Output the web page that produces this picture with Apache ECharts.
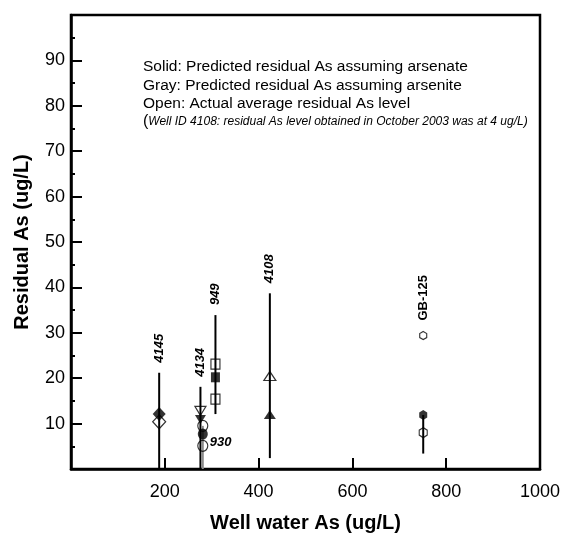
<!DOCTYPE html>
<html><head><meta charset="utf-8">
<script src="https://cdn.jsdelivr.net/npm/echarts@6/dist/echarts.min.js"></script>
<style>html,body{margin:0;padding:0;background:#fff}#c{width:563px;height:535px}</style>
</head><body><div id="c"></div>
<script>
// ---- data ----
const wells     = ['4145', '4134', '930', '949', '4108', 'GB-125'];
const wellAs    = [188, 276, 281, 308, 424, 751];
const rangeLow  = [0, 0, 0, 12.1, 2.4, 3.4];
const rangeHigh = [21.2, 18.1, 9.5, 33.9, 38.7, 11.9];
const solidAs   = [12.1, 10.9, 7.7, 20.2, 12.0, 11.9];
const openAs    = [10.4, 12.8, 5.1, 23.1, 20.5, 8.0];
const openAs2   = [null, null, 9.5, 15.4, null, 29.4];
const xTicks    = [0, 200, 400, 600, 800, 1000];
const yTicks    = [0, 10, 20, 30, 40, 50, 60, 70, 80, 90, 100];
const noteLines = ['Solid: Predicted residual As assuming arsenate',
                   'Gray: Predicted residual As assuming arsenite',
                   'Open: Actual average residual As level'];
const noteSmall = 'Well ID 4108: residual As level obtained in October 2003 was at 4 ug/L)';

// ---- style ----
const FONT = '"Liberation Sans", Arial, sans-serif';
const hexPath = 'path://M0,-10 L8.66,-5 L8.66,5 L0,10 L-8.66,5 L-8.66,-5 Z';
const symbols = ['diamond', 'triangle', 'circle', 'rect', 'triangle', hexPath];
const rotates = [0, 180, 0, 0, 0, 0];
const sizes   = [[13, 14], [11, 9], [10, 11], [9, 10], [12, 9], [8, 10]];
const sizes2  = [null, null, [10, 11], [9, 10], null, [7, 8]];

const chart = echarts.init(document.getElementById('c'), null, {renderer: 'canvas'});

function pts(vals, sz) {
  const out = [];
  vals.forEach((v, i) => {
    if (v == null) return;
    out.push({value: [wellAs[i], v], symbol: symbols[i], symbolRotate: rotates[i], symbolSize: sz[i]});
  });
  return out;
}

const option = {
  animation: false,
  backgroundColor: '#fff',
  grid: {left: 71, right: 23, top: 15, bottom: 66, containLabel: false, outerBoundsMode: 'none',
    show: true, borderColor: '#000', borderWidth: 2.5, backgroundColor: 'transparent'},
  xAxis: {
    type: 'value', min: xTicks[0], max: xTicks[xTicks.length - 1], interval: 200,
    name: 'Well water As (ug/L)', nameLocation: 'middle', nameGap: 44,
    nameTextStyle: {fontFamily: FONT, fontWeight: 'bold', fontSize: 20, color: '#000'},
    axisLine: {show: true, lineStyle: {color: '#000', width: 2.5}},
    axisTick: {show: true, inside: true, length: 11, lineStyle: {color: '#000', width: 2}},
    axisLabel: {fontFamily: FONT, fontSize: 18, color: '#000', margin: 14,
      formatter: v => (v === 0 ? '' : String(v))},
    splitLine: {show: false}
  },
  yAxis: {
    type: 'value', min: yTicks[0], max: yTicks[yTicks.length - 1], interval: 10,
    name: 'Residual As (ug/L)', nameLocation: 'middle', nameGap: 39,
    nameTextStyle: {fontFamily: FONT, fontWeight: 'bold', fontSize: 20, color: '#000'},
    axisLine: {show: true, lineStyle: {color: '#000', width: 2.5}},
    axisTick: {show: true, inside: true, length: 11, lineStyle: {color: '#000', width: 2}},
    minorTick: {show: true, splitNumber: 2, length: 4, lineStyle: {color: '#000', width: 2}},
    axisLabel: {fontFamily: FONT, fontSize: 18, color: '#000', margin: 6,
      formatter: v => (v === 0 || v === 100 ? '' : String(v))},
    splitLine: {show: false}
  },
  graphic: [
    ...noteLines.map((t, k) => ({type: 'text', left: 143, top: 59 + k * 18.5,
      style: {text: t, font: '15.5px ' + FONT, fill: '#000'}})),
    {type: 'text', left: 143, top: 114, style: {
      text: '{b|(}{s|' + noteSmall + '}',
      rich: {b: {font: '16px ' + FONT, fill: '#000'}, s: {font: 'italic 12px ' + FONT, fill: '#000'}}}}
  ],
  series: [
    {
      type: 'custom', z: 1, clip: true,
      data: wells.map((w, i) => [wellAs[i], rangeLow[i], rangeHigh[i]]),
      renderItem: (params, api) => {
        const i = params.dataIndex;
        const p1 = api.coord([api.value(0), api.value(1)]);
        const p2 = api.coord([api.value(0), api.value(2)]);
        return {type: 'line', shape: {x1: p1[0], y1: p1[1], x2: p2[0], y2: p2[1]},
          style: {stroke: wells[i] === '930' ? '#8a8a8a' : '#000', lineWidth: 2}};
      }
    },
    {
      type: 'scatter', z: 3, data: pts(openAs, sizes).concat(pts(openAs2, sizes2)),
      itemStyle: {color: 'rgba(0,0,0,0)', borderColor: '#000', borderWidth: 1.2}
    },
    {
      type: 'scatter', z: 4, data: pts(solidAs, sizes),
      itemStyle: {color: '#000'}
    },
    {
      type: 'custom', z: 5, clip: false,
      data: wells.map((w, i) => [wellAs[i], Math.max(rangeHigh[i], openAs[i], openAs2[i] || 0), solidAs[i]]),
      renderItem: (params, api) => {
        const i = params.dataIndex;
        const name = wells[i];
        if (name === '930') {
          const p = api.coord([api.value(0), api.value(2)]);
          return {type: 'text', x: p[0] + 7, y: p[1] + 8,
            style: {text: name, font: 'italic bold 13px ' + FONT, fill: '#000', textAlign: 'left', textVerticalAlign: 'middle'}};
        }
        const p = api.coord([api.value(0), api.value(1)]);
        const isGB = name === 'GB-125';
        return {type: 'text', x: p[0], y: p[1] - (isGB ? 15 : 10), rotation: Math.PI / 2,
          style: {text: name, font: (isGB ? 'bold 13px ' : 'italic bold 13px ') + FONT, fill: '#000',
            textAlign: 'left', textVerticalAlign: 'middle'}};
      }
    }
  ]
};
chart.setOption(option);
</script>
</body></html>
